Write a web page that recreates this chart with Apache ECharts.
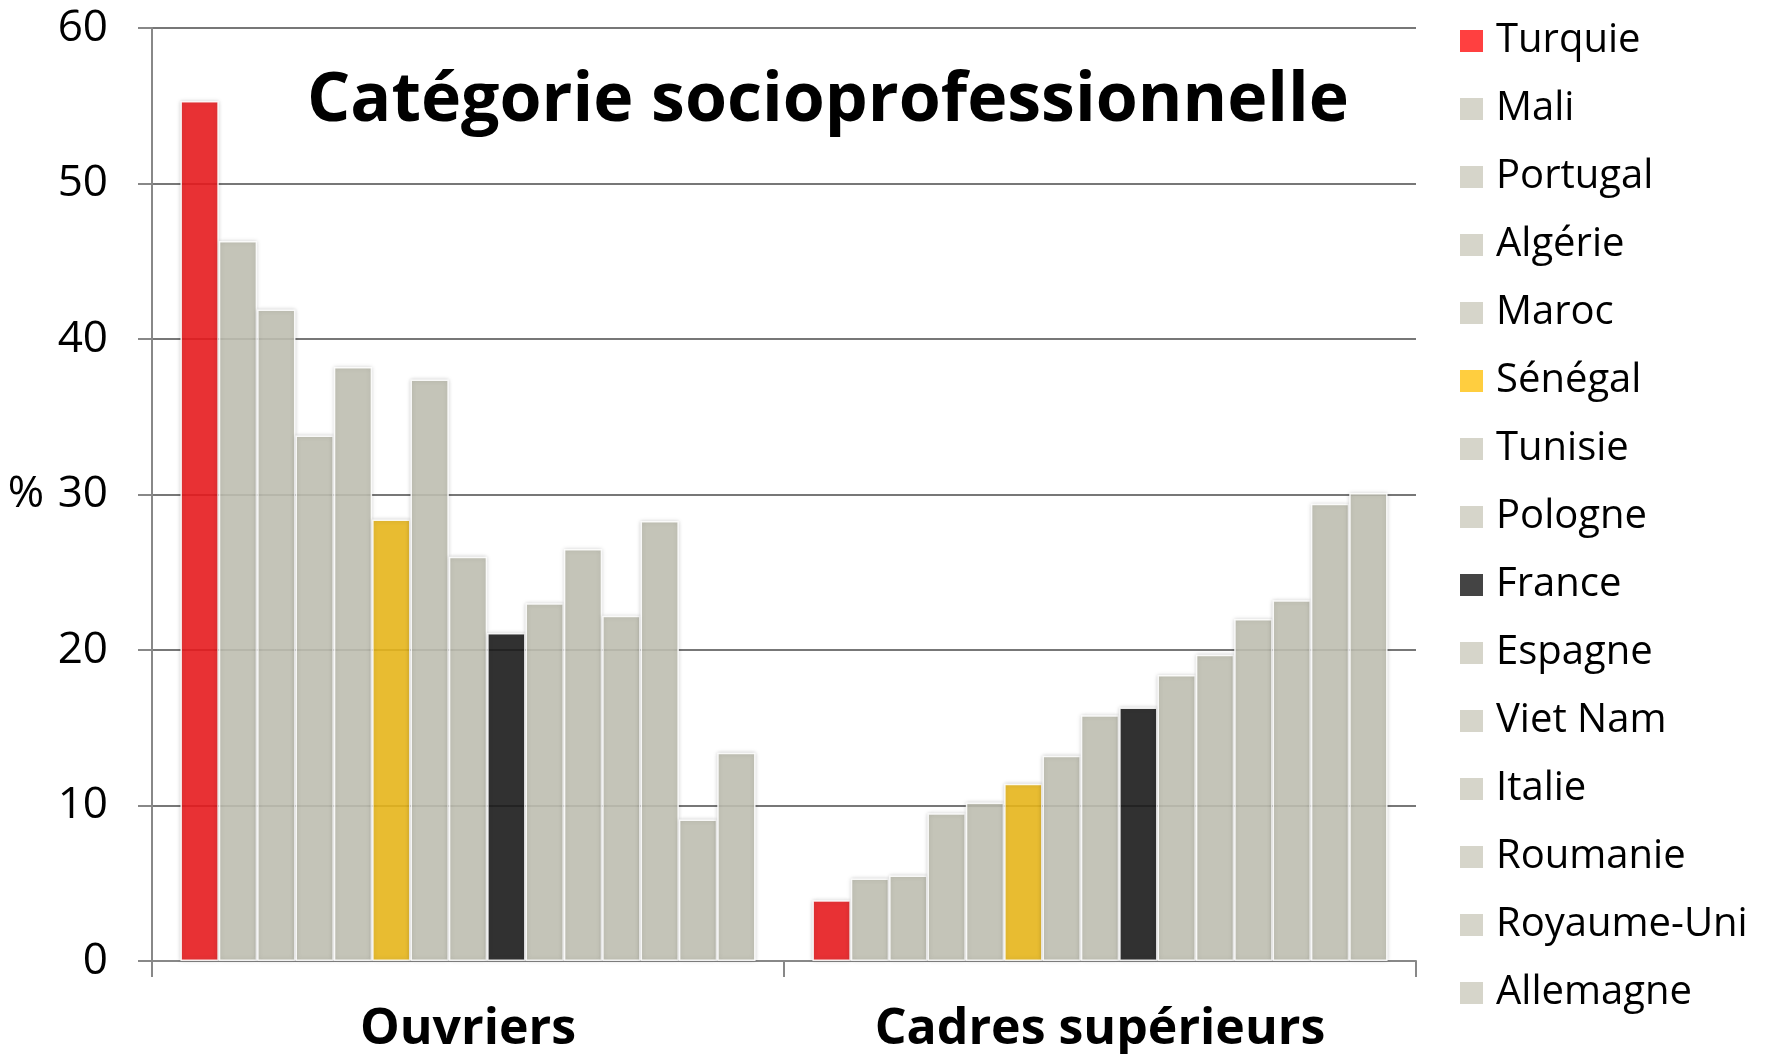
<!DOCTYPE html>
<html>
<head>
<meta charset="utf-8">
<script src="https://cdn.jsdelivr.net/npm/echarts@6/dist/echarts.min.js"></script>
<style>
  html, body { margin: 0; padding: 0; background: #fff; }
  #chart { width: 1775px; height: 1054px; }
</style>
</head>
<body>
<div id="chart"></div>
<script>
// catégories et pays (ordre de la légende = ordre des barres)
const categories = ['Ouvriers', 'Cadres supérieurs']
const countries = ['Turquie', 'Mali', 'Portugal', 'Algérie', 'Maroc', 'Sénégal', 'Tunisie', 'Pologne',
  'France', 'Espagne', 'Viet Nam', 'Italie', 'Roumanie', 'Royaume-Uni', 'Allemagne']
// valeurs en %
const ouvriers = [55.3, 46.3, 41.9, 33.8, 38.2, 28.4, 37.4, 26.0, 21.1, 23.0, 26.5, 22.2, 28.3, 9.1, 13.4]
const cadres = [3.9, 5.3, 5.5, 9.5, 10.2, 11.4, 13.2, 15.8, 16.3, 18.4, 19.7, 22.0, 23.2, 29.4, 30.1]

// couleurs des barres (un peu transparentes) et des pastilles de légende
function barColor(name) {
  if (name === 'Turquie') return '#ea1a1e'
  if (name === 'Sénégal') return '#ebb81a'
  if (name === 'France') return '#1a1a1a'
  return '#c2c1b4'
}
function legendColor(name) {
  if (name === 'Turquie') return '#ff4040'
  if (name === 'Sénégal') return '#ffce3f'
  if (name === 'France') return '#444444'
  return '#d6d5ca'
}

const myChart = echarts.init(document.getElementById('chart'))

const series = countries.map((name, i) => {
  return {
    name: name,
    type: 'bar',
    barGap: '0%',
    barCategoryGap: '9%',
    itemStyle: {
      color: barColor(name),
      opacity: 0.88,
      borderColor: '#ffffff',
      borderWidth: 1.5,
      shadowBlur: 4,
      shadowColor: 'rgba(0, 0, 0, 0.2)'
    },
    emphasis: { disabled: true },
    data: [ouvriers[i], cadres[i]]
  }
})

myChart.setOption({
  animation: false,
  textStyle: { fontFamily: 'Open Sans' },
  title: {
    text: 'Catégorie socioprofessionnelle',
    left: 823,
    textAlign: 'center',
    top: 63,
    textStyle: {
      fontFamily: 'Open Sans',
      fontWeight: 'bold',
      fontSize: 68,
      color: '#000'
    }
  },
  legend: {
    orient: 'vertical',
    left: 1455,
    top: 16,
    itemWidth: 23,
    itemHeight: 22,
    itemGap: 28,
    icon: 'rect',
    selectedMode: false,
    textStyle: {
      fontFamily: 'Open Sans',
      fontSize: 40,
      lineHeight: 40,
      color: '#000',
      padding: [0, 0, 0, 8]
    },
    data: countries.map(name => ({
      name: name,
      itemStyle: { color: legendColor(name), opacity: 1, borderWidth: 0, shadowBlur: 0 }
    }))
  },
  grid: {
    left: 152,
    right: 359,
    top: 28,
    bottom: 93,
    containLabel: false,
    outerBoundsMode: 'none'
  },
  xAxis: {
    type: 'category',
    data: categories,
    axisLine: { lineStyle: { color: '#888', width: 2 } },
    axisTick: { show: true, length: 16, lineStyle: { color: '#888', width: 2 } },
    axisLabel: {
      margin: 44,
      fontFamily: 'Open Sans',
      fontWeight: 'bold',
      fontSize: 50,
      color: '#000'
    }
  },
  yAxis: {
    type: 'value',
    min: 0,
    max: 60,
    interval: 10,
    name: '%',
    nameLocation: 'middle',
    nameRotate: 0,
    nameGap: 108,
    nameTextStyle: { fontFamily: 'Open Sans', fontSize: 44, color: '#000' },
    axisLine: { show: true, lineStyle: { color: '#888', width: 2 } },
    axisTick: { show: true, length: 14, lineStyle: { color: '#888', width: 2 } },
    axisLabel: {
      margin: 44,
      fontFamily: 'Open Sans',
      fontSize: 44,
      color: '#000'
    },
    splitLine: { show: true, lineStyle: { color: '#777', width: 2 } }
  },
  series: series
})

window.addEventListener('resize', () => {
  myChart.resize()
})
</script>
</body>
</html>
